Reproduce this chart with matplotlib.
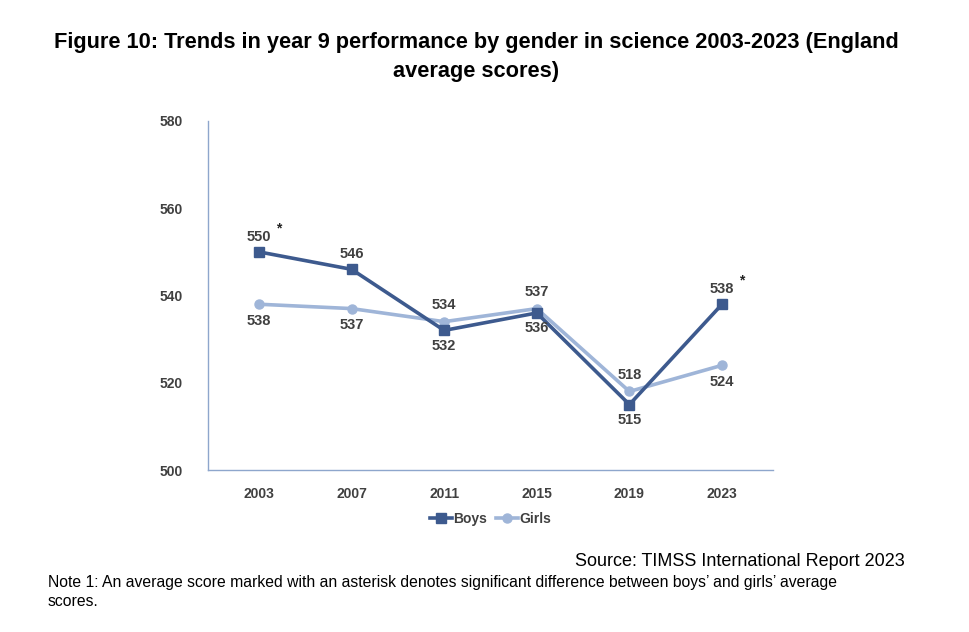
import matplotlib.pyplot as plt
import numpy as np

years = ["2003", "2007", "2011", "2015", "2019", "2023"]
boys = [550, 546, 532, 536, 515, 538]
girls = [538, 537, 534, 537, 518, 524]
boys_sig = [True, False, False, False, False, True]
# label position: +1 above, -1 below
boys_side = [1, 1, -1, -1, -1, 1]
girls_side = [-1, -1, 1, 1, 1, -1]

BOYS_C = "#3D5A8E"
GIRLS_C = "#9FB5D8"
AXIS_C = "#8EA6CC"
TEXT_C = "#404040"

plt.rcParams["font.family"] = ["Liberation Sans", "DejaVu Sans"]

fig = plt.figure(figsize=(9.7, 6.32), dpi=100)
ax = fig.add_axes([208 / 970, 1 - 470 / 632, (773 - 208) / 970, (470 - 121) / 632])

x = np.arange(len(years))
ax.plot(x, boys, color=BOYS_C, lw=2.6, marker="s", ms=6.5, label="Boys", zorder=3)
ax.plot(x, girls, color=GIRLS_C, lw=2.6, marker="o", ms=6.5, label="Girls", zorder=2)

for xi, v, side, sig in zip(x, boys, boys_side, boys_sig):
    ax.annotate(str(v), (xi, v), xytext=(0, 11 * side), textcoords="offset points",
                ha="center", va="center", fontsize=10.5, fontweight="bold", color=TEXT_C)
    if sig:
        ax.annotate("*", (xi, v), xytext=(14, 17), textcoords="offset points",
                    ha="center", va="center", fontsize=10, fontweight="bold", color="#222222")
for xi, v, side in zip(x, girls, girls_side):
    ax.annotate(str(v), (xi, v), xytext=(0, 12 * side), textcoords="offset points",
                ha="center", va="center", fontsize=10.5, fontweight="bold", color=TEXT_C)

ax.set_xlim(-0.55, 5.55)
ax.set_ylim(500, 580)
ax.set_yticks([500, 520, 540, 560, 580])
ax.set_xticks(x)
ax.set_xticklabels(years)
for s in ["top", "right"]:
    ax.spines[s].set_visible(False)
for s in ["left", "bottom"]:
    ax.spines[s].set_color(AXIS_C)
    ax.spines[s].set_linewidth(1.0)
ax.tick_params(length=0, labelsize=10, colors=TEXT_C, pad=12)
for lbl in ax.get_xticklabels() + ax.get_yticklabels():
    lbl.set_fontweight("bold")
ax.tick_params(axis="y", pad=18)

leg = ax.legend(loc="upper center", bbox_to_anchor=(0.5, -0.085), ncol=2, frameon=False,
                handlelength=1.6, handletextpad=0.1, columnspacing=0.6,
                prop={"size": 10, "weight": "bold"})
for t in leg.get_texts():
    t.set_color(TEXT_C)

fig.text(476 / 970, 1 - 57 / 632,
         "Figure 10: Trends in year 9 performance by gender in science 2003-2023 (England\naverage scores)",
         ha="center", va="center", fontsize=15.7, fontweight="bold", linespacing=1.5)
fig.text(905 / 970, 1 - 562 / 632, "Source: TIMSS International Report 2023",
         ha="right", va="center", fontsize=13)
fig.text(48 / 970, 1 - 592 / 632,
         "Note 1: An average score marked with an asterisk denotes significant difference between boys’ and girls’ average\nscores.",
         ha="left", va="center", fontsize=11.3, linespacing=1.3)

fig.savefig("out.png", dpi=100)
